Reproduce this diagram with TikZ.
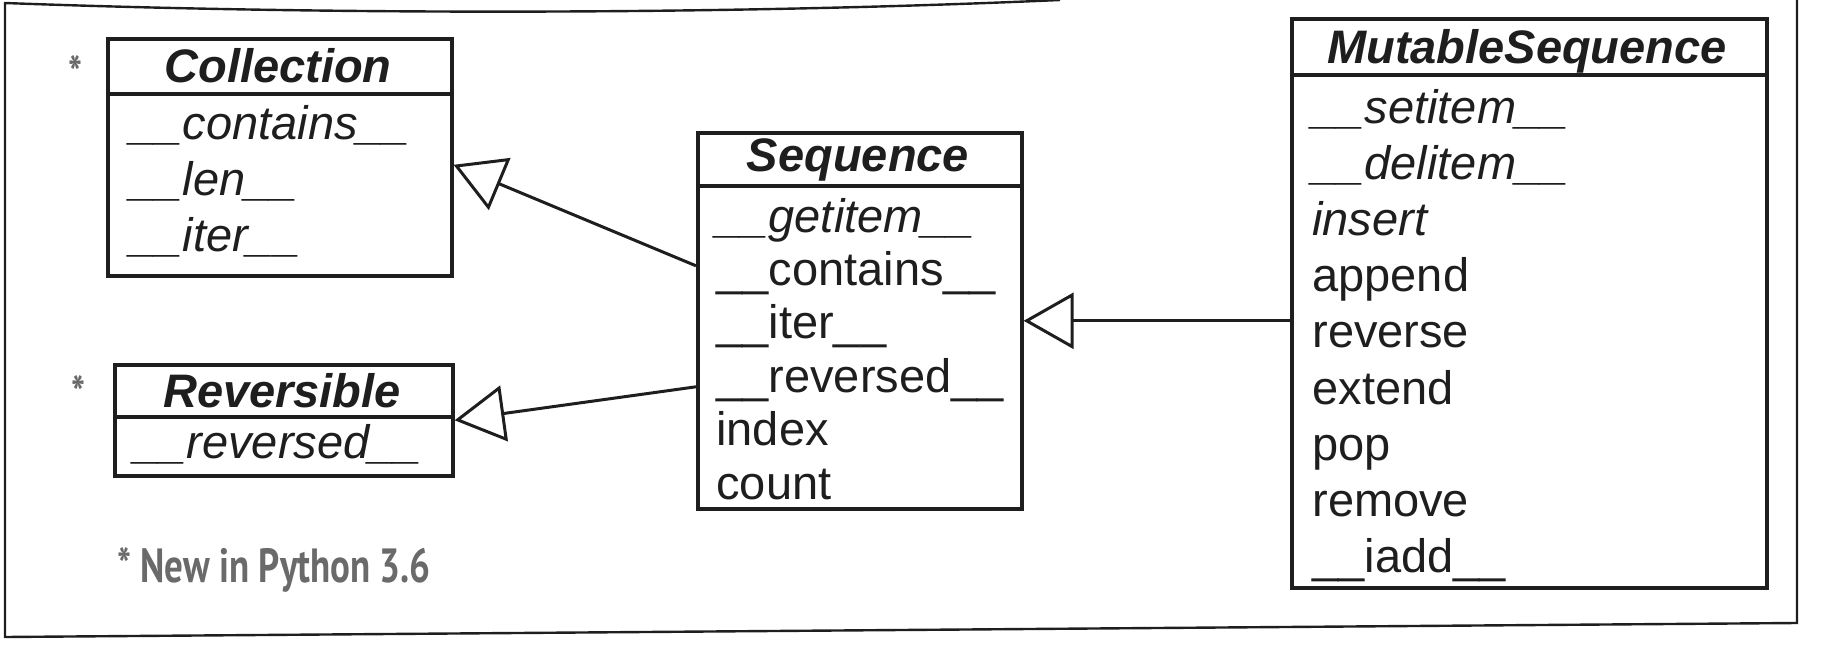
\documentclass[tikz,border=0pt]{standalone}
\usepackage{fontspec}
\setmainfont{Liberation Sans}
\newfontfamily\handfont[FakeStretch=0.77]{PT Sans}
\usetikzlibrary{arrows.meta}
\definecolor{ink}{HTML}{1E1E1E}
\definecolor{pencil}{HTML}{6A6A6A}
\tikzset{
  boxframe/.style={draw=ink, line width=1.8pt, inner sep=0pt, anchor=north west},
  divider/.style={draw=ink, line width=1.8pt},
  titletext/.style={font=\fontsize{23.5}{28}\selectfont\bfseries\itshape, text=ink, inner sep=0pt, anchor=base},
  rowtext/.style={font=\fontsize{23.5}{28}\selectfont, text=ink, inner sep=0pt, anchor=base west},
  inherit/.style={draw=ink, line width=1.5pt, -{Triangle[open, length=25pt, width=28pt]}},
  note/.style={text=pencil, inner sep=0pt, font=\handfont\bfseries\fontsize{24}{28}\selectfont},
}
\begin{document}
\begin{tikzpicture}[x=0.5pt, y=-0.5pt]
\useasboundingbox (0,0) rectangle (1832,648);
% page frame
\draw[ink, line width=1.2pt] (1060,0) .. controls (700,16) and (300,14) .. (5,3) -- (5,637) -- (1797,623) -- (1797,0);

% Collection
\node[boxframe, minimum width=172pt, minimum height=118.5pt] (coll) at (106,37) {};
\draw[divider] ([yshift=-28.5pt]coll.north west) -- ([yshift=-28.5pt]coll.north east);
\node[titletext] (collT) at (278,83) {Collection};
\node[rowtext] (coll1) at (130,139) {\textit{\_\_contains\_\_}};
\node[rowtext] (coll2) at (130,195) {\textit{\_\_len\_\_}};
\node[rowtext] (coll3) at (130,251) {\textit{\_\_iter\_\_}};
\node[note, anchor=base] (star1) at (75,90) {*};

% Reversible
\node[boxframe, minimum width=169pt, minimum height=55.5pt] (rev) at (113,363) {};
\draw[divider] ([yshift=-27pt]rev.north west) -- ([yshift=-27pt]rev.north east);
\node[titletext] (revT) at (282,407) {Reversible};
\node[rowtext] (rev1) at (134,458) {\textit{\_\_reversed\_\_}};
\node[note, anchor=base] (star2) at (78,410) {*};

% footnote
\node[note, anchor=base west] (foot) at (117,582) {* New in Python 3.6};

% Sequence
\node[boxframe, minimum width=162pt, minimum height=188pt] (seq) at (696,131) {};
\draw[divider] ([yshift=-27.5pt]seq.north west) -- ([yshift=-27.5pt]seq.north east);
\node[titletext] (seqT) at (858,171) {Sequence};
\node[rowtext] (seq1) at (716,232) {\textit{\_\_getitem\_\_}};
\node[rowtext] (seq2) at (716,285.4) {\_\_contains\_\_};
\node[rowtext] (seq3) at (716,338.8) {\_\_iter\_\_};
\node[rowtext] (seq4) at (716,392.2) {\_\_reversed\_\_};
\node[rowtext] (seq5) at (716,445.6) {index};
\node[rowtext] (seq6) at (716,499) {count};

% MutableSequence
\node[boxframe, minimum width=237.5pt, minimum height=284.5pt] (mut) at (1290,17) {};
\draw[divider] ([yshift=-29pt]mut.north west) -- ([yshift=-29pt]mut.north east);
\node[titletext] (mutT) at (1527,63) {MutableSequence};
\node[rowtext] (mut1) at (1312,123) {\textit{\_\_setitem\_\_}};
\node[rowtext] (mut2) at (1312,179) {\textit{\_\_delitem\_\_}};
\node[rowtext] (mut3) at (1312,235) {\textit{insert}};
\node[rowtext] (mut4) at (1312,291) {append};
\node[rowtext] (mut5) at (1312,347) {reverse};
\node[rowtext] (mut6) at (1312,404) {extend};
\node[rowtext] (mut7) at (1312,460) {pop};
\node[rowtext] (mut8) at (1312,516) {remove};
\node[rowtext] (mut9) at (1312,572) {\_\_iadd\_\_};

% inheritance arrows
\draw[inherit] ([yshift=27.5pt]seq.west) -- ([yshift=-3.75pt]coll.east);
\draw[inherit] ([yshift=-33pt]seq.west) -- (rev.east);
\draw[inherit] (mut.west |- seq.east) -- (seq.east);
\end{tikzpicture}
\end{document}
